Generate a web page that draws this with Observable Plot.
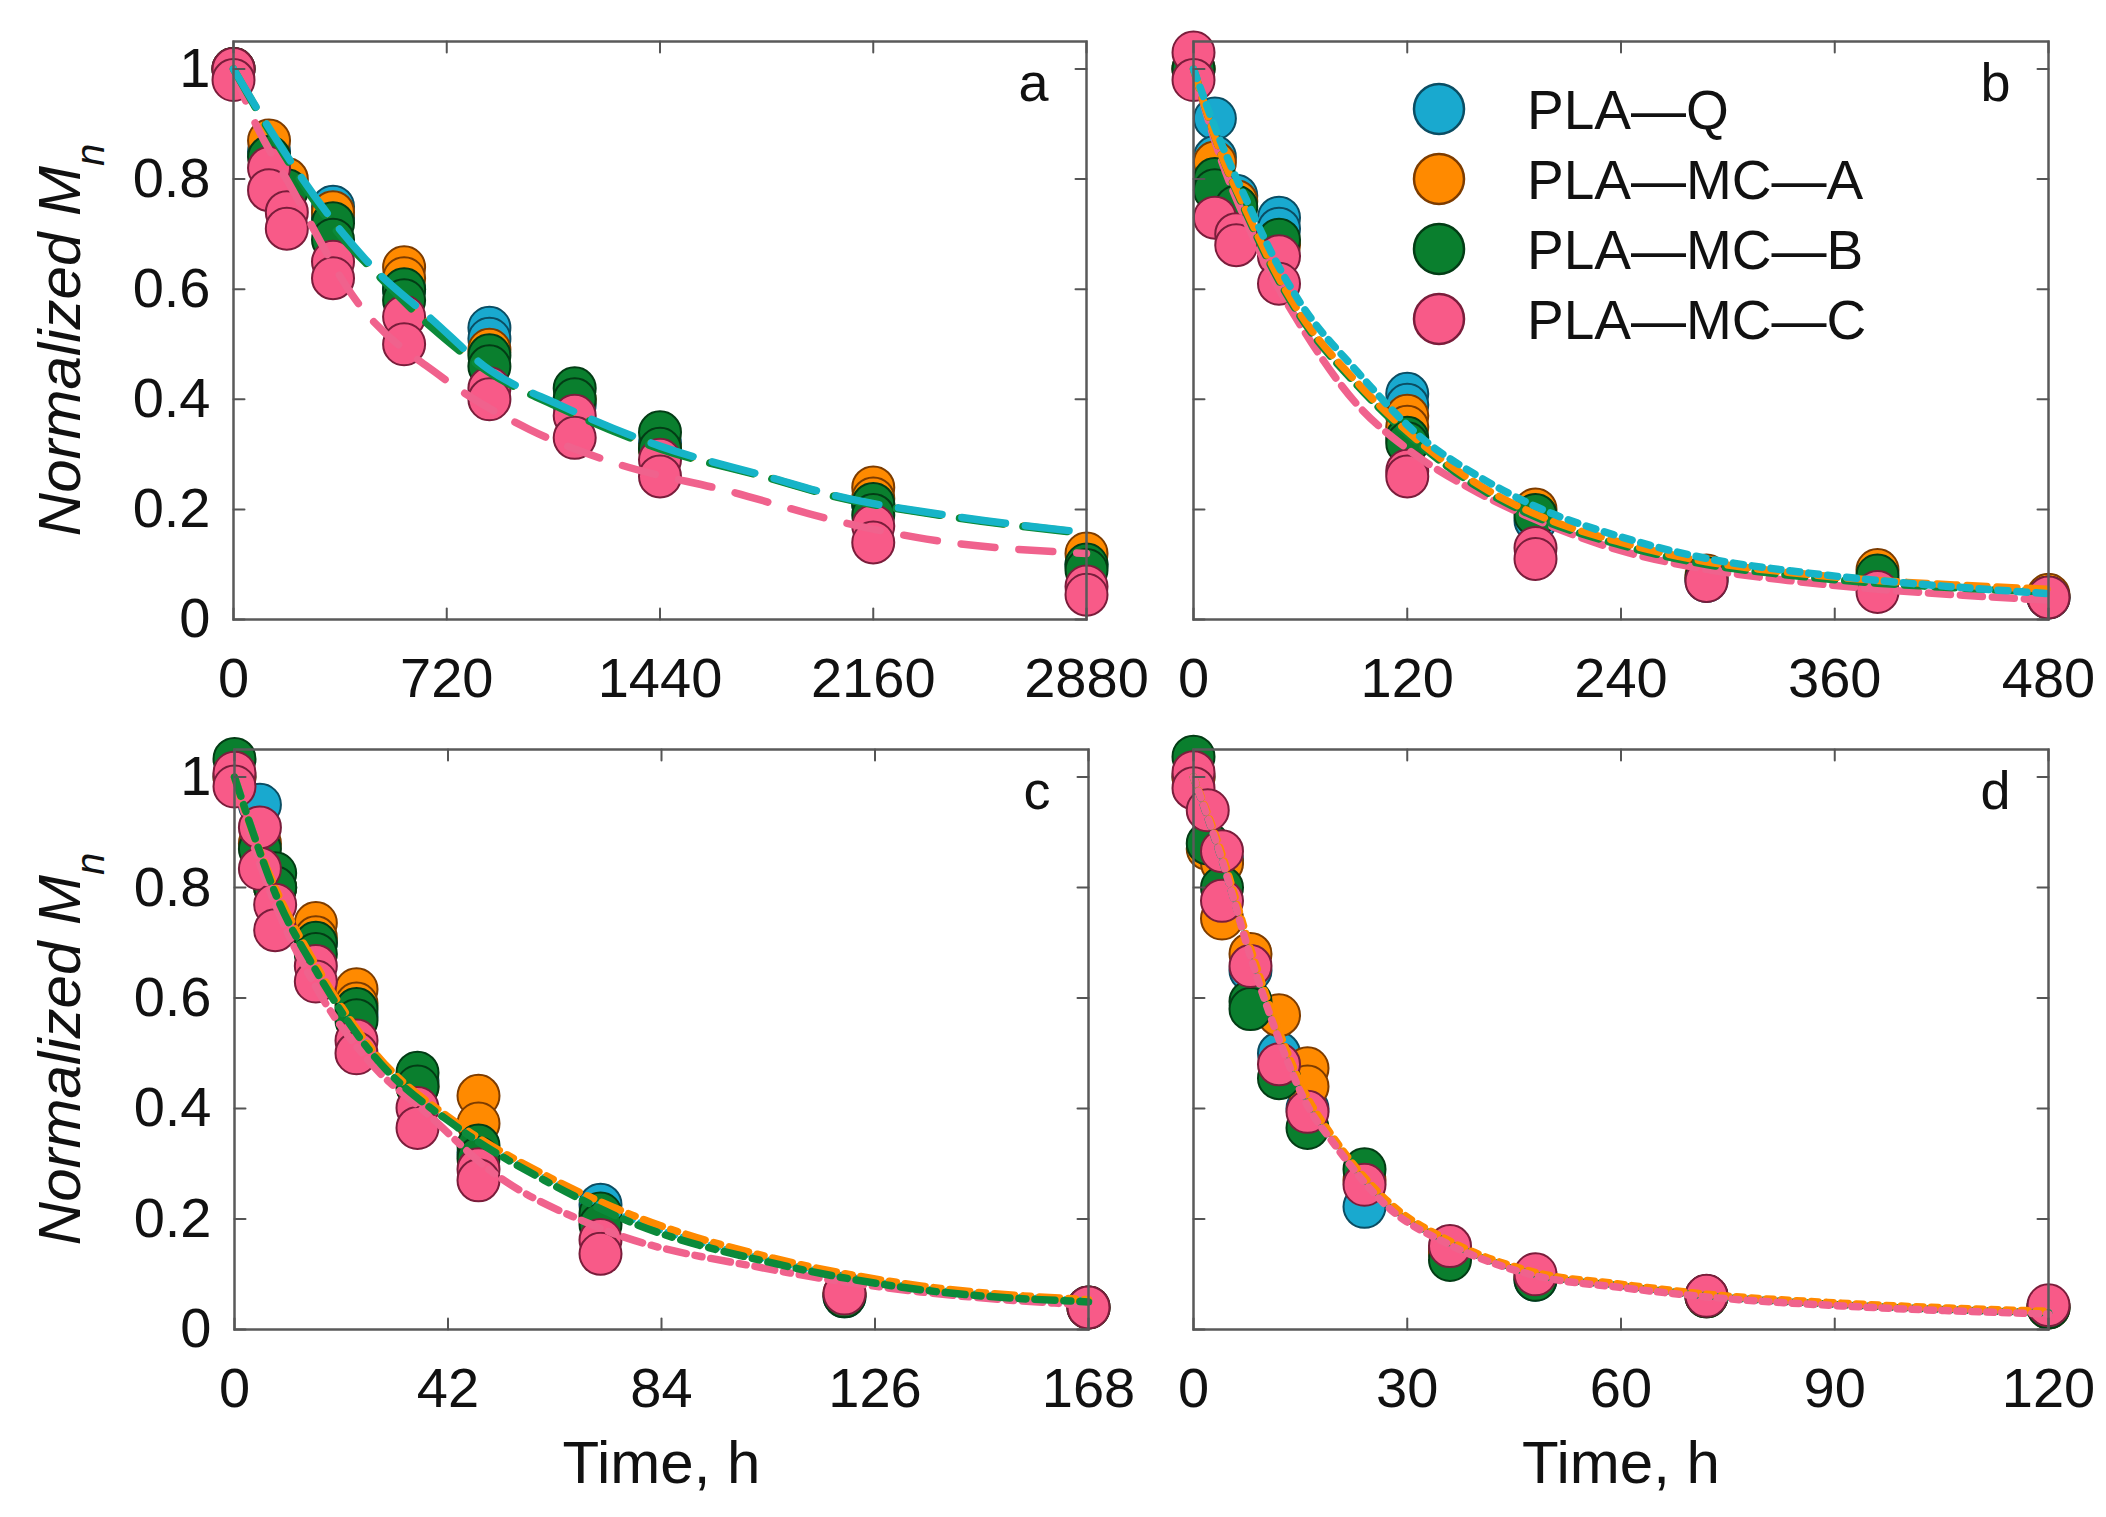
<!DOCTYPE html>
<html><head><meta charset="utf-8">
<script src="https://cdn.jsdelivr.net/npm/d3@7"></script>
<script src="https://cdn.jsdelivr.net/npm/@observablehq/plot@0.6"></script>
<style>
html,body{margin:0;padding:0;background:#fff;}
#fig{position:relative;width:2106px;height:1517px;overflow:hidden;background:#fff;}
.panel{position:absolute;}
.panel svg{overflow:visible;}
</style></head><body><div id="fig"></div>
<script>
// ---------- categories ----------
const seriesNames = ["PLA—Q", "PLA—MC—A", "PLA—MC—B", "PLA—MC—C"];
const panelLetters = ["a", "b", "c", "d"];
const yTitle = "Normalized M";
const ySub = "n";
const xTitle = "Time, h";

// ---------- tick labels ----------
const yTicks = [0, 0.2, 0.4, 0.6, 0.8, 1];
const xTicksA = [0, 720, 1440, 2160, 2880];
const xTicksB = [0, 120, 240, 360, 480];
const xTicksC = [0, 42, 84, 126, 168];
const xTicksD = [0, 30, 60, 90, 120];

// ---------- panel a: measured points [time h, normalized Mn] ----------
const ptsA_Q = [[0,1.0],[120,0.85],[180,0.79],[336,0.75],[336,0.73],[576,0.60],[864,0.53],[864,0.51],[1152,0.39],[1440,0.32],[2160,0.21],[2880,0.10]];
const ptsA_A = [[0,1.0],[120,0.87],[180,0.80],[336,0.74],[576,0.64],[576,0.62],[864,0.49],[1152,0.40],[1440,0.31],[2160,0.24],[2160,0.22],[2880,0.12]];
const ptsA_B = [[0,1.0],[120,0.84],[180,0.78],[336,0.72],[336,0.69],[576,0.60],[576,0.58],[864,0.48],[864,0.46],[1152,0.42],[1152,0.40],[1440,0.34],[1440,0.31],[2160,0.21],[2160,0.19],[2880,0.10],[2880,0.09]];
const ptsA_C = [[0,1.0],[0,0.98],[120,0.82],[120,0.78],[180,0.74],[180,0.71],[336,0.65],[336,0.62],[576,0.55],[576,0.50],[864,0.42],[864,0.40],[1152,0.37],[1152,0.33],[1440,0.29],[1440,0.26],[2160,0.17],[2160,0.14],[2880,0.06],[2880,0.045]];
// panel a: fitted curves
const fitA_Q = [[0,1.0],[135,0.88],[372,0.70],[470,0.64],[670,0.545],[860,0.455],[1100,0.39],[1440,0.315],[1800,0.26],[2040,0.224],[2400,0.19],[2880,0.158]];
const fitA_A = [[0,1.0],[135,0.878],[372,0.695],[470,0.638],[670,0.535],[860,0.452],[1100,0.387],[1440,0.312],[1800,0.259],[2040,0.223],[2400,0.189],[2880,0.157]];
const fitA_B = [[0,1.0],[135,0.875],[372,0.69],[470,0.635],[670,0.53],[860,0.45],[1100,0.385],[1440,0.31],[1800,0.258],[2040,0.222],[2400,0.188],[2880,0.156]];
const fitA_C = [[0,1.0],[50,0.93],[200,0.78],[400,0.59],[704,0.44],[1000,0.345],[1283,0.285],[1680,0.232],[2030,0.18],[2340,0.146],[2880,0.12]];

// ---------- panel b ----------
const ptsB_Q = [[0,1.0],[12,0.91],[12,0.84],[24,0.77],[48,0.73],[48,0.71],[120,0.41],[120,0.39],[192,0.18],[288,0.07],[384,0.07],[480,0.04]];
const ptsB_A = [[0,1.0],[12,0.83],[24,0.76],[48,0.68],[120,0.37],[120,0.35],[192,0.20],[288,0.08],[384,0.09],[480,0.045]];
const ptsB_B = [[0,1.0],[12,0.80],[12,0.78],[24,0.75],[48,0.69],[120,0.33],[120,0.32],[192,0.19],[288,0.075],[384,0.08],[480,0.04]];
const ptsB_C = [[0,1.03],[0,0.98],[12,0.73],[24,0.70],[24,0.68],[48,0.66],[48,0.61],[120,0.27],[120,0.26],[192,0.13],[192,0.11],[288,0.07],[384,0.05],[480,0.04]];
const fitB_Q = [[0,1.0],[15,0.87],[30,0.76],[48,0.64],[59,0.58],[92,0.45],[128,0.33],[160,0.26],[193,0.204],[240,0.15],[288,0.111],[336,0.088],[384,0.071],[432,0.058],[480,0.047]];
const fitB_A = [[0,1.0],[15,0.85],[30,0.74],[48,0.62],[59,0.56],[92,0.43],[128,0.32],[160,0.245],[193,0.19],[240,0.14],[288,0.105],[336,0.085],[384,0.071],[432,0.062],[480,0.055]];
const fitB_B = [[0,1.0],[15,0.85],[30,0.735],[48,0.615],[59,0.555],[92,0.425],[128,0.315],[160,0.24],[193,0.185],[240,0.135],[288,0.10],[336,0.08],[384,0.066],[432,0.057],[480,0.05]];
const fitB_C = [[0,1.0],[15,0.84],[30,0.72],[48,0.60],[59,0.54],[92,0.39],[120,0.31],[160,0.23],[193,0.18],[240,0.125],[288,0.091],[336,0.07],[384,0.055],[432,0.044],[480,0.035]];

// ---------- panel c ----------
const ptsC_Q = [[0,1.0],[5,0.95],[8,0.80],[16,0.70],[24,0.57],[36,0.45],[48,0.32],[72,0.226],[120,0.06],[168,0.04]];
const ptsC_A = [[0,1.0],[5,0.88],[8,0.80],[16,0.736],[16,0.71],[24,0.616],[24,0.59],[36,0.44],[48,0.423],[48,0.373],[72,0.20],[120,0.065],[168,0.04]];
const ptsC_B = [[0,1.033],[5,0.87],[8,0.826],[8,0.80],[16,0.70],[16,0.68],[24,0.58],[24,0.56],[36,0.465],[36,0.44],[48,0.333],[48,0.31],[72,0.21],[72,0.19],[120,0.06],[168,0.04]];
const ptsC_C = [[0,1.008],[0,0.983],[5,0.909],[5,0.834],[8,0.769],[8,0.723],[16,0.658],[16,0.63],[24,0.523],[24,0.50],[36,0.401],[36,0.365],[48,0.29],[48,0.27],[72,0.162],[72,0.137],[120,0.065],[168,0.04]];
const fitC_Q = [[0,1.0],[4,0.89],[8,0.79],[16,0.655],[27,0.505],[44,0.368],[61,0.275],[78,0.2],[106,0.124],[135,0.075],[168,0.052]];
const fitC_A = [[0,1.0],[4,0.89],[8,0.80],[16,0.66],[27,0.508],[44,0.372],[61,0.28],[78,0.208],[106,0.129],[135,0.079],[168,0.054]];
const fitC_B = [[0,1.0],[4,0.89],[8,0.79],[16,0.65],[27,0.50],[44,0.365],[61,0.27],[78,0.194],[106,0.12],[135,0.072],[168,0.05]];
const fitC_C = [[0,1.0],[4,0.87],[8,0.77],[16,0.62],[27,0.48],[38,0.39],[50,0.29],[71,0.187],[106,0.108],[135,0.068],[168,0.044]];

// ---------- panel d ----------
const ptsD_Q = [[0,1.0],[4,0.85],[8,0.65],[12,0.50],[16,0.40],[24,0.222],[36,0.14],[48,0.09],[72,0.06],[120,0.04]];
const ptsD_A = [[0,1.0],[2,0.87],[4,0.844],[4,0.744],[8,0.68],[12,0.569],[16,0.473],[16,0.44],[24,0.27],[36,0.14],[48,0.095],[72,0.06],[120,0.04]];
const ptsD_B = [[0,1.037],[2,0.88],[4,0.80],[8,0.594],[8,0.58],[12,0.455],[16,0.365],[24,0.29],[36,0.126],[48,0.09],[72,0.06],[120,0.04]];
const ptsD_C = [[0,1.009],[0,0.98],[2,0.94],[4,0.866],[4,0.776],[8,0.658],[12,0.48],[16,0.394],[24,0.262],[36,0.151],[48,0.10],[72,0.061],[120,0.044]];
const fitD_Q = [[0,1.0],[4,0.85],[8,0.68],[12,0.53],[16,0.41],[19.5,0.344],[27.6,0.222],[35.7,0.158],[47.8,0.10],[60,0.079],[72,0.061],[92,0.044],[120,0.03]];
const fitD_A = [[0,1.0],[4,0.86],[8,0.69],[12,0.54],[16,0.42],[19.5,0.35],[27.6,0.228],[35.7,0.162],[47.8,0.104],[60,0.082],[72,0.064],[92,0.047],[120,0.033]];
const fitD_B = [[0,1.0],[4,0.85],[8,0.68],[12,0.53],[16,0.41],[19.5,0.344],[27.6,0.222],[35.7,0.158],[47.8,0.10],[60,0.079],[72,0.061],[92,0.044],[120,0.03]];
const fitD_C = [[0,1.0],[4,0.85],[8,0.675],[12,0.525],[16,0.405],[19.5,0.34],[27.6,0.218],[35.7,0.155],[47.8,0.098],[60,0.076],[72,0.059],[92,0.042],[120,0.028]];

// ---------- styles ----------
const fillColors   = ["#19a9cf", "#ff8a00", "#0a7f2e", "#f85a88"];
const edgeColors   = ["#0b4d63", "#7d3c00", "#033c15", "#7a1d3b"];
const lineColors   = ["#16b4c8", "#ff8a00", "#0b8a3a", "#f0628d"];
const FONT = "Liberation Sans, Arial, Helvetica, sans-serif";

const panels = [
  {letter: panelLetters[0], xDomain: [0, 2880], xTicks: xTicksA, pts: [ptsA_Q, ptsA_A, ptsA_B, ptsA_C], fits: [fitA_Q, fitA_A, fitA_B, fitA_C],
   dash: ["44,20", "44,20", "44,20", "34,24"], order: [3, 1, 2, 0],
   box: {left: 0, top: 0, width: 1140, height: 720, ml: 233, mr: 54, mt: 41, mb: 101}, yLabels: true, xTitle: false, legend: false},
  {letter: panelLetters[1], xDomain: [0, 480], xTicks: xTicksB, pts: [ptsB_Q, ptsB_A, ptsB_B, ptsB_C], fits: [fitB_Q, fitB_A, fitB_B, fitB_C],
   dash: ["10,9", "20,10", "20,10", "22,10"], order: [3, 2, 1, 0],
   box: {left: 1140, top: 0, width: 966, height: 720, ml: 53, mr: 58, mt: 41, mb: 101}, yLabels: false, xTitle: false, legend: true},
  {letter: panelLetters[2], xDomain: [0, 168], xTicks: xTicksC, pts: [ptsC_Q, ptsC_A, ptsC_B, ptsC_C], fits: [fitC_Q, fitC_A, fitC_B, fitC_C],
   dash: ["20,9,7,9", "20,9,7,9", "20,9,7,9", "20,9,7,9"], order: [0, 3, 1, 2],
   box: {left: 0, top: 720, width: 1140, height: 797, ml: 234, mr: 52, mt: 29, mb: 188}, yLabels: true, xTitle: true, legend: false},
  {letter: panelLetters[3], xDomain: [0, 120], xTicks: xTicksD, pts: [ptsD_Q, ptsD_A, ptsD_B, ptsD_C], fits: [fitD_Q, fitD_A, fitD_B, fitD_C],
   dash: ["7,8", "7,8", "7,8", "7,8"], order: [0, 2, 1, 3],
   box: {left: 1140, top: 720, width: 966, height: 797, ml: 53, mr: 58, mt: 29, mb: 188}, yLabels: false, xTitle: true, legend: false}
];

const yDomain = [0, 1.05];
const tickShape = {draw(context, l) { context.moveTo(0, 0); context.lineTo(0, -l); }};
const TICK = {length: 11, anchor: "start", shape: tickShape, stroke: "#555", strokeWidth: 2};

const fig = document.getElementById("fig");

for (const p of panels) {
  const dots = p.pts.flatMap((arr, s) => arr.map(([t, v]) => ({t, v, s})));
  const xmax = p.xDomain[1];
  const marks = [
    Plot.dot(dots, {x: "t", y: "v", r: 21, fill: d => fillColors[d.s], stroke: d => edgeColors[d.s], strokeWidth: 2}),
    ...p.order.map(s => Plot.line(p.fits[s], {x: d => d[0], y: d => d[1], stroke: lineColors[s], strokeWidth: 7.5,
      strokeDasharray: p.dash[s], curve: "monotone-x"})),
    Plot.frame({stroke: "#5a5a5a", strokeWidth: 2.5}),
    // inward ticks on all four sides
    Plot.vector(p.xTicks, {x: d => d, y: () => yDomain[0], rotate: 0, ...TICK}),
    Plot.vector(p.xTicks, {x: d => d, y: () => yDomain[1], rotate: 180, ...TICK}),
    Plot.vector(yTicks, {y: d => d, x: () => 0, rotate: 90, ...TICK}),
    Plot.vector(yTicks, {y: d => d, x: () => xmax, rotate: 270, ...TICK}),
    Plot.axisX({ticks: p.xTicks, anchor: "bottom", tickSize: 0, tickPadding: 38, fontSize: 56, tickFormat: d => String(d), label: null}),
    Plot.text([p.letter], {frameAnchor: "top-right", dx: -38, dy: 21, fontSize: 54, text: d => d, fill: "#111"})
  ];
  if (p.yLabels) marks.push(Plot.axisY({ticks: yTicks, anchor: "left", tickSize: 0, tickPadding: 23, fontSize: 56, tickFormat: d => String(d), label: null}));
  if (p.xTitle) marks.push(Plot.text([xTitle], {frameAnchor: "bottom", dy: 134, lineAnchor: "middle", fontSize: 60, text: d => d, fill: "#111"}));

  const b = p.box;
  const chart = Plot.plot({
    width: b.width, height: b.height,
    marginLeft: b.ml, marginRight: b.mr, marginTop: b.mt, marginBottom: b.mb,
    x: {domain: p.xDomain, axis: null},
    y: {domain: yDomain, axis: null},
    color: {type: "identity"},
    style: {fontFamily: FONT, color: "#111", background: "transparent", overflow: "visible"},
    marks
  });
  const wrap = document.createElement("div");
  wrap.className = "panel";
  wrap.style.left = b.left + "px";
  wrap.style.top = b.top + "px";
  wrap.appendChild(chart);
  fig.appendChild(wrap);

  const svg = d3.select(chart);
  if (p.yLabels) {
    const cy = b.mt + (b.height - b.mt - b.mb) / 2;
    const t = svg.append("text")
      .attr("transform", `translate(80,${cy + 10}) rotate(-90)`)
      .attr("text-anchor", "middle")
      .attr("font-family", FONT)
      .attr("font-style", "italic")
      .attr("font-size", 60)
      .attr("fill", "#111");
    t.append("tspan").text(yTitle);
    t.append("tspan").attr("font-size", 40).attr("dy", 24).text(ySub);
  }
  if (p.legend) {
    const g = svg.append("g").attr("transform", "translate(299,109)");
    const rows = g.selectAll("g").data(seriesNames).join("g")
      .attr("transform", (d, i) => `translate(0,${i * 70})`);
    rows.append("circle").attr("r", 25)
      .attr("fill", (d, i) => fillColors[i]).attr("stroke", (d, i) => edgeColors[i]).attr("stroke-width", 2.5);
    rows.append("text").attr("x", 88).attr("dy", "0.36em")
      .attr("text-anchor", "start")
      .attr("font-family", FONT).attr("font-size", 55).attr("fill", "#111")
      .text(d => d);
  }
}
</script>
</body></html>
